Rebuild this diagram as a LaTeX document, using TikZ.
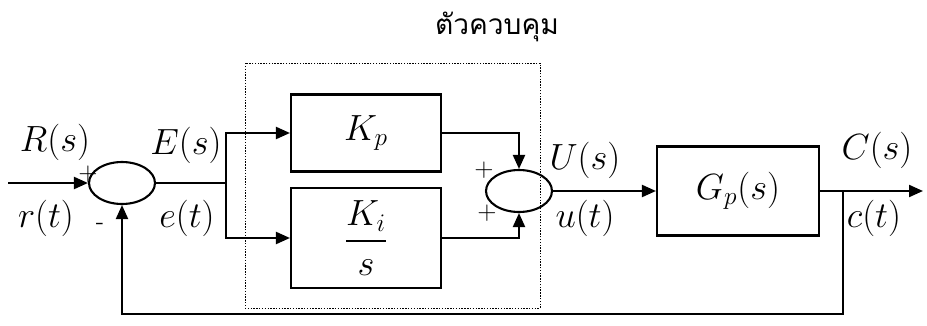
\documentclass[tikz,border=0pt]{standalone}
\usepackage{amsmath}
\usepackage{fontspec}
\newfontfamily\thaifont[Script=Thai]{Loma}
\usepackage{tikz}
\usetikzlibrary{arrows.meta,positioning,shapes.geometric}

\begin{document}
\begin{tikzpicture}[
    x=0.02cm, y=-0.02cm,
    blk/.style={draw,line width=1.2pt,align=center,font=\fontsize{20}{24}\selectfont},
    sumjn/.style={draw,ellipse,line width=1.2pt,minimum width=1.32cm,minimum height=0.84cm,inner sep=0pt},
    sig/.style={font=\fontsize{20}{24}\selectfont,inner sep=0.5pt},
    sgn/.style={font=\Large,inner sep=0.5pt},
    >={Triangle[length=0.28cm,width=0.24cm]},
    every path/.style={line width=1.2pt}
]
\useasboundingbox (0,0) rectangle (927,325);

% controller frame and title
\node[draw,line width=0.5pt,dash pattern=on 0.8pt off 0.8pt,minimum width=5.9cm,minimum height=4.9cm] (ctrl) at (392.5,185.5) {};
\node[font=\thaifont\fontsize{16}{18}\selectfont] (title) at (497,27) {ตัวควบคุม};

% blocks
\node[sumjn] (sum1) at (122,183) {};
\node[blk,minimum width=3cm,minimum height=1.54cm] (kp) at (366,133) {$K_p$};
\node[blk,minimum width=3cm,minimum height=2cm] (ki) at (366,238) {$\dfrac{K_i}{s}$};
\node[sumjn] (sum2) at (519,191) {};
\node[blk,minimum width=3.24cm,minimum height=1.78cm] (gp) at (738,191) {$G_p(s)$};

\coordinate (in) at (8,183);
\coordinate (br1) at (226,183);
\coordinate (br2) at (843,191);
\coordinate (out) at (923,191);
\coordinate (fb) at (122,314);

% connectors
\draw[->] (in) -- (sum1.west);
\draw (sum1.east) -- (br1);
\draw[->] (br1) |- (kp.west);
\draw[->] (br1) |- (ki.west);
\draw[->] (kp.east) -| (sum2.north);
\draw[->] (ki.east) -| (sum2.south);
\draw[->] (sum2.east) -- (gp.west);
\draw[->] (gp.east) -- (out);
\draw[->] (br2) |- (fb) -- (sum1.south);

% signal labels
\node[sig] (Rs) at (55,142) {$R(s)$};
\node[sig] (rt) at (46,218) {$r(t)$};
\node[sgn] (p1) at (88,174) {$+$};
\node[sgn] (m1) at (100,226) {-};
\node[sig] (Es) at (186,145) {$E(s)$};
\node[sig] (et) at (187,218) {$e(t)$};
\node[sgn] (p2) at (484,170) {$+$};
\node[sgn] (p3) at (487,213) {$+$};
\node[sig] (Us) at (585,160) {$U(s)$};
\node[sig] (ut) at (585,218) {$u(t)$};
\node[sig] (Cs) at (877,150) {$C(s)$};
\node[sig] (ct) at (874,218) {$c(t)$};
\end{tikzpicture}
\end{document}
